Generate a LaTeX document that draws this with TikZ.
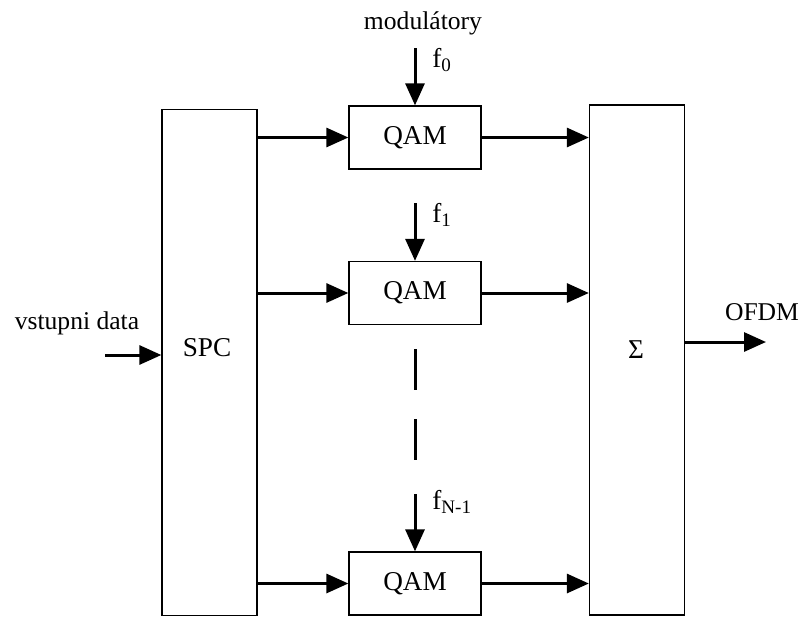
\documentclass[tikz,border=0pt]{standalone}
\usepackage{fontspec}
\setmainfont{Liberation Serif}
\usetikzlibrary{arrows.meta,positioning,calc}
\tikzset{
  blok/.style={draw,line width=0.65pt,inner sep=0pt},
  tallblok/.style={blok,minimum width=47.5pt,minimum height=253pt},
  qamblok/.style={blok,minimum width=66pt,minimum height=31.5pt,font=\fontsize{13.6}{16}\selectfont},
  sig/.style={line width=1.5pt,-{Triangle[length=11pt,width=9.5pt]}},
  lbl/.style={inner sep=0pt,font=\fontsize{12.8}{15}\selectfont},
  blklbl/.style={inner sep=0pt,font=\fontsize{13.6}{16}\selectfont},
}
\begin{document}
\begin{tikzpicture}[x=0.5pt,y=-0.5pt]
\useasboundingbox (0,0) rectangle (803,616);

% bloky
\node[tallblok] (spc) at (209.5,362.5) {};
\node[tallblok,minimum height=255pt] (sigma) at (637,360) {};
\node[qamblok] (qam0) at (415,137.5) {QAM};
\node[qamblok] (qam1) at (415,293) {QAM};
\node[qamblok] (qamN) at (415,583.5) {QAM};

% popisky
\node[blklbl] (spclbl) at (207,348) {SPC};
\node[blklbl] (sigmalbl) at (636,350) {Σ};
\node[lbl] (vstup) at (77,323) {vstupni data};
\node[lbl] (modul) at (423,23) {modulátory};
\node[lbl] (ofdm) at (762,312) {OFDM};
\node[blklbl,anchor=west] (f0) at (432,60) {f\textsubscript{0}};
\node[blklbl,anchor=west] (f1) at (432,215) {f\textsubscript{1}};
\node[blklbl,anchor=west] (fN) at (432,502) {f\textsubscript{N-1}};

% nosne
\coordinate (f0in) at (415,48);
\coordinate (f1in) at (415,203);
\coordinate (fNin) at (415,494);
\draw[sig] (f0in) -- (qam0);
\draw[sig] (f1in) -- (qam1);
\draw[sig] (fNin) -- (qamN);

% tecky mezi vetvemi
\coordinate (dA) at (415,349);
\coordinate (dB) at (415,462);
\draw[line width=1.5pt,dash pattern=on 20.5pt off 14.5pt] (dA) -- (dB);

% vstup a vystup
\coordinate (vin) at (105,355);
\coordinate (vout) at (766,342);
\draw[sig] (vin) -- (vin -| spc.west);
\draw[sig] (vout -| sigma.east) -- (vout);

% vetve
\foreach \q in {qam0,qam1,qamN}{
  \draw[sig] (\q -| spc.east) -- (\q);
  \draw[sig] (\q.east) -- (\q.east -| sigma.west);
}
\end{tikzpicture}
\end{document}
